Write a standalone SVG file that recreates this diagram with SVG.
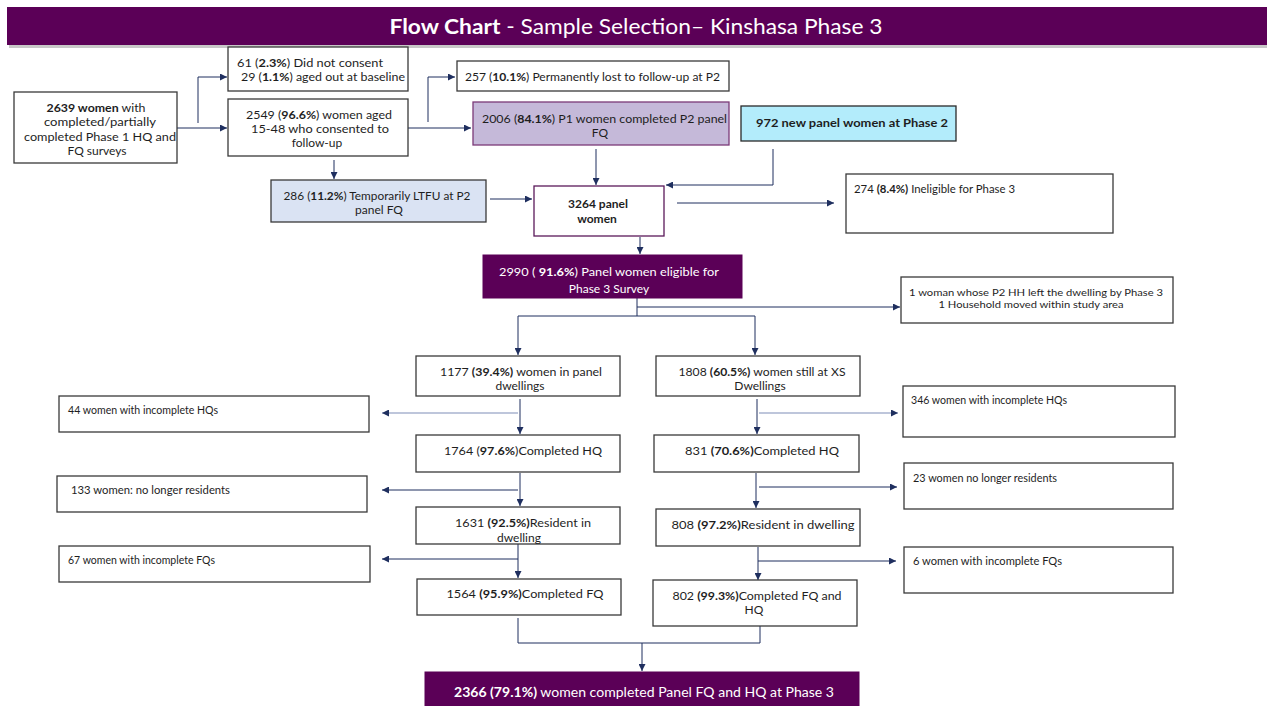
<svg xmlns="http://www.w3.org/2000/svg" width="1267" height="706" viewBox="0 0 1267 706">
<defs>
<marker id="ah" viewBox="0 0 10 10" refX="10" refY="5" markerWidth="7" markerHeight="7" markerUnits="userSpaceOnUse" orient="auto"><path d="M0,0 L10,5 L0,10 z" fill="#1f2f5f"/></marker>
<style>
.box{fill:#fff;stroke:#3a3a3a;stroke-width:1.3}
.t{font-family:Lato,"Open Sans","Noto Sans","DejaVu Sans",sans-serif;font-size:12px;fill:#1e1e1e}
.s{font-size:10.5px}
.xs{font-size:10px}
.m{text-anchor:middle}
.w{fill:#fff}
.b{font-weight:bold}
.c{fill:none;stroke:#1f2f5f;stroke-width:1;marker-end:url(#ah)}
.n{fill:none;stroke:#1f2f5f;stroke-width:1}
.lc{stroke:#a9b3cf;stroke-width:1.5}
.purple{fill:#5b0057;stroke:#5b0057}
</style>
</defs>
<rect width="1267" height="706" fill="#fff"/>
<g id="title">
<rect x="9" y="9" width="1258" height="39" fill="#c8c8c8"/>
<rect x="7" y="7" width="1260" height="38" fill="#5b0057"/>
<text x="636" y="34" class="t m w" style="font-size:21px" textLength="493" lengthAdjust="spacingAndGlyphs"><tspan class="b">Flow Chart</tspan> - Sample Selection– Kinshasa Phase 3</text>
</g>
<g id="connectors">
<path class="c" d="M177,128 H227"/>
<path class="c" d="M198,123 V77 H227"/>
<path class="c" d="M408,128 H471"/>
<path class="c" d="M428,122 V77 H455"/>
<path class="c" d="M334,160 V179"/>
<path class="c" d="M490,199 H532"/>
<path class="c" d="M596,149 V185"/>
<path class="c" d="M773,149 V185 H666"/>
<path class="c" d="M677,203 H834"/>
<path class="c" d="M640,237 V254"/>
<path class="n" d="M637,298 V316"/>
<path class="c" d="M637,307 H900"/>
<path class="n" d="M518,316 H755"/>
<path class="c" d="M518,316 V355"/>
<path class="c" d="M755,316 V355"/>
<path class="c" d="M520,399 V434"/>
<path class="c lc" d="M518,413 H382"/>
<path class="c" d="M520,473 V506"/>
<path class="c" d="M518,490 H382"/>
<path class="c" d="M518,544 V578"/>
<path class="c" d="M518,559 H382"/>
<path class="c" d="M757,399 V434"/>
<path class="c lc" d="M759,413 H898"/>
<path class="c" d="M756,473 V508"/>
<path class="c" d="M759,487 H897"/>
<path class="c" d="M758,547 V580"/>
<path class="c" d="M758,561 H896"/>
<path class="n" d="M518,618 V643 H760 V626"/>
<path class="c" d="M642,643 V671"/>
</g>
<g id="n2639">
<rect class="box" x="14" y="92" width="163" height="71"/>
<text class="t m" x="96" y="112" textLength="99" lengthAdjust="spacingAndGlyphs"><tspan class="b">2639 women</tspan> with</text>
<text class="t m" x="100" y="126" textLength="112" lengthAdjust="spacingAndGlyphs">completed/partially</text>
<text class="t m" x="100" y="141" textLength="152" lengthAdjust="spacingAndGlyphs">completed Phase 1 HQ and</text>
<text class="t m" x="97" y="155">FQ surveys</text>
</g>
<g id="nConsent">
<rect class="box" x="228" y="47" width="180" height="44"/>
<text class="t" x="237" y="67" textLength="146" lengthAdjust="spacingAndGlyphs">61 (<tspan class="b">2.3%</tspan>) Did not consent</text>
<text class="t" x="241" y="81" textLength="164" lengthAdjust="spacingAndGlyphs">29 (<tspan class="b">1.1%</tspan>) aged out at baseline</text>
</g>
<g id="n2549">
<rect class="box" x="228" y="99" width="180" height="57"/>
<text class="t m" x="319" y="119" textLength="146" lengthAdjust="spacingAndGlyphs">2549 (<tspan class="b">96.6%</tspan>) women aged</text>
<text class="t m" x="320" y="133" textLength="138" lengthAdjust="spacingAndGlyphs">15-48 who consented to</text>
<text class="t m" x="317" y="147">follow-up</text>
</g>
<g id="n286">
<rect x="271" y="180" width="215" height="42" fill="#dae3f3" stroke="#3a3a3a" stroke-width="1.3"/>
<text class="t m" x="377" y="200" textLength="187" lengthAdjust="spacingAndGlyphs">286 (<tspan class="b">11.2%</tspan>) Temporarily LTFU at P2</text>
<text class="t m" x="379" y="214">panel FQ</text>
</g>
<g id="n257">
<rect class="box" x="457" y="61" width="272" height="30"/>
<text class="t" x="465" y="81" textLength="255" lengthAdjust="spacingAndGlyphs">257 (<tspan class="b">10.1%</tspan>) Permanently lost to follow-up at P2</text>
</g>
<g id="n2006">
<rect x="473" y="102" width="256" height="43" fill="#c5b9d9" stroke="#7b3a78" stroke-width="1.3"/>
<text class="t" x="482" y="123" textLength="245" lengthAdjust="spacingAndGlyphs">2006 (<tspan class="b">84.1%</tspan>) P1 women completed P2 panel</text>
<text class="t m" x="600" y="137">FQ</text>
</g>
<g id="n972">
<rect x="741" y="106" width="215" height="35" fill="#b3ecfb" stroke="#2a2a2a" stroke-width="1.3"/>
<text class="t b" x="756" y="127" textLength="192" lengthAdjust="spacingAndGlyphs">972 new panel women at Phase 2</text>
</g>
<g id="n3264">
<rect x="534" y="186" width="130" height="50" fill="#fff" stroke="#5b1a5a" stroke-width="1.3"/>
<text class="t m b" x="598" y="208">3264 panel</text>
<text class="t m b" x="597" y="223">women</text>
</g>
<g id="n274">
<rect class="box" x="846" y="174" width="267" height="59"/>
<text class="t s" x="854" y="193" textLength="161" lengthAdjust="spacingAndGlyphs">274 <tspan class="b">(8.4%)</tspan> Ineligible for Phase 3</text>
</g>
<g id="n2990">
<rect class="purple" x="483" y="255" width="259" height="43"/>
<text class="t m w" x="609" y="276" textLength="220" lengthAdjust="spacingAndGlyphs">2990 ( <tspan class="b">91.6%</tspan>) Panel women eligible for</text>
<text class="t m w" x="609" y="293">Phase 3 Survey</text>
</g>
<g id="nMoved">
<rect class="box" x="901" y="277" width="272" height="46"/>
<text class="t xs m" x="1036" y="296" textLength="254" lengthAdjust="spacingAndGlyphs">1 woman whose P2 HH left the dwelling by Phase 3</text>
<text class="t xs m" x="1031" y="308" textLength="185" lengthAdjust="spacingAndGlyphs">1 Household moved within study area</text>
</g>
<g id="n1177">
<rect class="box" x="416" y="356" width="204" height="40"/>
<text class="t m" x="521" y="376" textLength="162" lengthAdjust="spacingAndGlyphs">1177 <tspan class="b">(39.4%)</tspan> women in panel</text>
<text class="t m" x="520" y="390">dwellings</text>
</g>
<g id="n44">
<rect class="box" x="59" y="396" width="310" height="36"/>
<text class="t s" x="68" y="414" textLength="150" lengthAdjust="spacingAndGlyphs">44 women with incomplete HQs</text>
</g>
<g id="n1764">
<rect class="box" x="416" y="435" width="204" height="37"/>
<text class="t m" x="523" y="455" textLength="158" lengthAdjust="spacingAndGlyphs">1764 (<tspan class="b">97.6%</tspan>)Completed HQ</text>
</g>
<g id="n133">
<rect class="box" x="57" y="476" width="310" height="36"/>
<text class="t s" x="71" y="494" textLength="159" lengthAdjust="spacingAndGlyphs">133 women: no longer residents</text>
</g>
<g id="n1631">
<rect class="box" x="416" y="507" width="204" height="37"/>
<text class="t m" x="523" y="527" textLength="136" lengthAdjust="spacingAndGlyphs">1631 <tspan class="b">(92.5%)</tspan>Resident in</text>
<text class="t m" x="519" y="542">dwelling</text>
</g>
<g id="n67">
<rect class="box" x="59" y="546" width="311" height="36"/>
<text class="t s" x="68" y="564" textLength="147" lengthAdjust="spacingAndGlyphs">67 women with incomplete FQs</text>
</g>
<g id="n1564">
<rect class="box" x="417" y="579" width="204" height="36"/>
<text class="t m" x="525" y="598" textLength="157" lengthAdjust="spacingAndGlyphs">1564 <tspan class="b">(95.9%)</tspan>Completed FQ</text>
</g>
<g id="n1808">
<rect class="box" x="656" y="356" width="204" height="40"/>
<text class="t m" x="762" y="376" textLength="167" lengthAdjust="spacingAndGlyphs">1808 <tspan class="b">(60.5%)</tspan> women still at XS</text>
<text class="t m" x="760" y="390">Dwellings</text>
</g>
<g id="n346">
<rect class="box" x="903" y="386" width="272" height="51"/>
<text class="t s" x="911" y="404" textLength="156" lengthAdjust="spacingAndGlyphs">346 women with incomplete HQs</text>
</g>
<g id="n831">
<rect class="box" x="654" y="435" width="205" height="37"/>
<text class="t m" x="762" y="455" textLength="154" lengthAdjust="spacingAndGlyphs">831 <tspan class="b">(70.6%)</tspan>Completed HQ</text>
</g>
<g id="n23">
<rect class="box" x="904" y="463" width="269" height="46"/>
<text class="t s" x="913" y="482" textLength="144" lengthAdjust="spacingAndGlyphs">23 women no longer residents</text>
</g>
<g id="n808">
<rect class="box" x="656" y="509" width="204" height="37"/>
<text class="t m" x="763" y="529" textLength="183" lengthAdjust="spacingAndGlyphs">808 <tspan class="b">(97.2%)</tspan>Resident in dwelling</text>
</g>
<g id="n6">
<rect class="box" x="904" y="547" width="269" height="46"/>
<text class="t s" x="913" y="565" textLength="149" lengthAdjust="spacingAndGlyphs">6 women with incomplete FQs</text>
</g>
<g id="n802">
<rect class="box" x="653" y="580" width="204" height="46"/>
<text class="t m" x="757" y="600" textLength="169" lengthAdjust="spacingAndGlyphs">802 <tspan class="b">(99.3%)</tspan>Completed FQ and</text>
<text class="t m" x="754" y="614">HQ</text>
</g>
<g id="n2366">
<rect class="purple" x="425" y="672" width="434" height="34"/>
<text class="t m w" x="644" y="697" style="font-size:13.5px" textLength="380" lengthAdjust="spacingAndGlyphs"><tspan class="b">2366 (79.1%)</tspan>  women completed Panel FQ and HQ at Phase 3</text>
</g>
</svg>
